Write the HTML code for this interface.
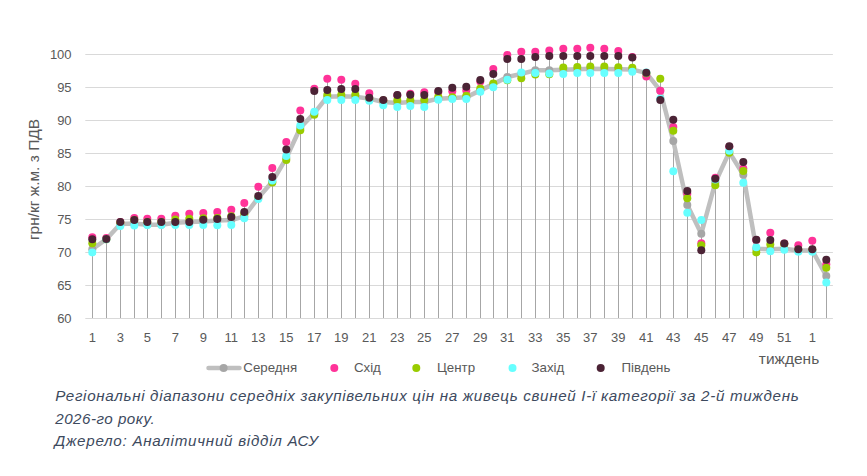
<!DOCTYPE html>
<html><head><meta charset="utf-8"><style>
html,body{margin:0;padding:0;background:#fff;width:867px;height:476px;overflow:hidden}
svg{display:block}
</style></head><body>
<svg width="867" height="476" viewBox="0 0 867 476">
<line x1="85.3" x2="832.9" y1="318.5" y2="318.5" stroke="#D9D9D9" stroke-width="1"/>
<line x1="85.3" x2="832.9" y1="285.5" y2="285.5" stroke="#D9D9D9" stroke-width="1"/>
<line x1="85.3" x2="832.9" y1="252.5" y2="252.5" stroke="#D9D9D9" stroke-width="1"/>
<line x1="85.3" x2="832.9" y1="219.5" y2="219.5" stroke="#D9D9D9" stroke-width="1"/>
<line x1="85.3" x2="832.9" y1="186.5" y2="186.5" stroke="#D9D9D9" stroke-width="1"/>
<line x1="85.3" x2="832.9" y1="153.5" y2="153.5" stroke="#D9D9D9" stroke-width="1"/>
<line x1="85.3" x2="832.9" y1="120.5" y2="120.5" stroke="#D9D9D9" stroke-width="1"/>
<line x1="85.3" x2="832.9" y1="87.5" y2="87.5" stroke="#D9D9D9" stroke-width="1"/>
<line x1="85.3" x2="832.9" y1="54.5" y2="54.5" stroke="#D9D9D9" stroke-width="1"/>
<line x1="92.5" x2="92.5" y1="237.29" y2="318" stroke="#A6A6A6" stroke-width="1"/>
<line x1="106.5" x2="106.5" y1="237.95" y2="318" stroke="#A6A6A6" stroke-width="1"/>
<line x1="120.5" x2="120.5" y1="221.97" y2="318" stroke="#A6A6A6" stroke-width="1"/>
<line x1="134.5" x2="134.5" y1="217.88" y2="318" stroke="#A6A6A6" stroke-width="1"/>
<line x1="147.5" x2="147.5" y1="218.80" y2="318" stroke="#A6A6A6" stroke-width="1"/>
<line x1="161.5" x2="161.5" y1="218.80" y2="318" stroke="#A6A6A6" stroke-width="1"/>
<line x1="175.5" x2="175.5" y1="215.70" y2="318" stroke="#A6A6A6" stroke-width="1"/>
<line x1="189.5" x2="189.5" y1="213.85" y2="318" stroke="#A6A6A6" stroke-width="1"/>
<line x1="203.5" x2="203.5" y1="212.99" y2="318" stroke="#A6A6A6" stroke-width="1"/>
<line x1="217.5" x2="217.5" y1="211.94" y2="318" stroke="#A6A6A6" stroke-width="1"/>
<line x1="231.5" x2="231.5" y1="209.82" y2="318" stroke="#A6A6A6" stroke-width="1"/>
<line x1="244.5" x2="244.5" y1="202.96" y2="318" stroke="#A6A6A6" stroke-width="1"/>
<line x1="258.5" x2="258.5" y1="186.85" y2="318" stroke="#A6A6A6" stroke-width="1"/>
<line x1="272.5" x2="272.5" y1="167.96" y2="318" stroke="#A6A6A6" stroke-width="1"/>
<line x1="286.5" x2="286.5" y1="141.88" y2="318" stroke="#A6A6A6" stroke-width="1"/>
<line x1="300.5" x2="300.5" y1="110.52" y2="318" stroke="#A6A6A6" stroke-width="1"/>
<line x1="314.5" x2="314.5" y1="88.73" y2="318" stroke="#A6A6A6" stroke-width="1"/>
<line x1="327.5" x2="327.5" y1="78.70" y2="318" stroke="#A6A6A6" stroke-width="1"/>
<line x1="341.5" x2="341.5" y1="79.69" y2="318" stroke="#A6A6A6" stroke-width="1"/>
<line x1="355.5" x2="355.5" y1="83.72" y2="318" stroke="#A6A6A6" stroke-width="1"/>
<line x1="369.5" x2="369.5" y1="93.35" y2="318" stroke="#A6A6A6" stroke-width="1"/>
<line x1="383.5" x2="383.5" y1="99.96" y2="318" stroke="#A6A6A6" stroke-width="1"/>
<line x1="397.5" x2="397.5" y1="95.01" y2="318" stroke="#A6A6A6" stroke-width="1"/>
<line x1="410.5" x2="410.5" y1="93.75" y2="318" stroke="#A6A6A6" stroke-width="1"/>
<line x1="424.5" x2="424.5" y1="92.36" y2="318" stroke="#A6A6A6" stroke-width="1"/>
<line x1="438.5" x2="438.5" y1="91.04" y2="318" stroke="#A6A6A6" stroke-width="1"/>
<line x1="452.5" x2="452.5" y1="87.87" y2="318" stroke="#A6A6A6" stroke-width="1"/>
<line x1="466.5" x2="466.5" y1="86.75" y2="318" stroke="#A6A6A6" stroke-width="1"/>
<line x1="480.5" x2="480.5" y1="79.95" y2="318" stroke="#A6A6A6" stroke-width="1"/>
<line x1="493.5" x2="493.5" y1="68.93" y2="318" stroke="#A6A6A6" stroke-width="1"/>
<line x1="507.5" x2="507.5" y1="55.06" y2="318" stroke="#A6A6A6" stroke-width="1"/>
<line x1="521.5" x2="521.5" y1="51.63" y2="318" stroke="#A6A6A6" stroke-width="1"/>
<line x1="535.5" x2="535.5" y1="51.63" y2="318" stroke="#A6A6A6" stroke-width="1"/>
<line x1="549.5" x2="549.5" y1="50.57" y2="318" stroke="#A6A6A6" stroke-width="1"/>
<line x1="563.5" x2="563.5" y1="48.72" y2="318" stroke="#A6A6A6" stroke-width="1"/>
<line x1="577.5" x2="577.5" y1="48.72" y2="318" stroke="#A6A6A6" stroke-width="1"/>
<line x1="590.5" x2="590.5" y1="47.80" y2="318" stroke="#A6A6A6" stroke-width="1"/>
<line x1="604.5" x2="604.5" y1="48.72" y2="318" stroke="#A6A6A6" stroke-width="1"/>
<line x1="618.5" x2="618.5" y1="51.10" y2="318" stroke="#A6A6A6" stroke-width="1"/>
<line x1="632.5" x2="632.5" y1="56.91" y2="318" stroke="#A6A6A6" stroke-width="1"/>
<line x1="646.5" x2="646.5" y1="72.56" y2="318" stroke="#A6A6A6" stroke-width="1"/>
<line x1="660.5" x2="660.5" y1="78.83" y2="318" stroke="#A6A6A6" stroke-width="1"/>
<line x1="673.5" x2="673.5" y1="119.76" y2="318" stroke="#A6A6A6" stroke-width="1"/>
<line x1="687.5" x2="687.5" y1="190.94" y2="318" stroke="#A6A6A6" stroke-width="1"/>
<line x1="701.5" x2="701.5" y1="219.92" y2="318" stroke="#A6A6A6" stroke-width="1"/>
<line x1="715.5" x2="715.5" y1="177.87" y2="318" stroke="#A6A6A6" stroke-width="1"/>
<line x1="729.5" x2="729.5" y1="146.17" y2="318" stroke="#A6A6A6" stroke-width="1"/>
<line x1="743.5" x2="743.5" y1="162.02" y2="318" stroke="#A6A6A6" stroke-width="1"/>
<line x1="756.5" x2="756.5" y1="239.67" y2="318" stroke="#A6A6A6" stroke-width="1"/>
<line x1="770.5" x2="770.5" y1="232.67" y2="318" stroke="#A6A6A6" stroke-width="1"/>
<line x1="784.5" x2="784.5" y1="243.56" y2="318" stroke="#A6A6A6" stroke-width="1"/>
<line x1="798.5" x2="798.5" y1="245.21" y2="318" stroke="#A6A6A6" stroke-width="1"/>
<line x1="812.5" x2="812.5" y1="240.66" y2="318" stroke="#A6A6A6" stroke-width="1"/>
<line x1="826.5" x2="826.5" y1="259.74" y2="318" stroke="#A6A6A6" stroke-width="1"/>
<polyline points="92.30,249.17 106.30,239.27 120.30,224.08 134.30,223.42 147.30,224.74 161.30,224.74 175.30,222.76 189.30,222.10 203.30,221.44 217.30,220.58 231.30,220.12 244.30,216.36 258.30,197.67 272.30,181.83 286.30,158.06 300.30,127.69 314.30,113.16 327.30,96.66 341.30,96.33 355.30,96.66 369.30,98.64 383.30,101.94 397.30,102.93 410.30,101.94 424.30,101.94 438.30,98.64 452.30,97.98 466.30,97.32 480.30,90.38 493.30,84.11 507.30,76.98 521.30,73.88 535.30,70.25 549.30,70.25 563.30,69.72 577.30,69.26 590.30,68.79 604.30,68.93 618.30,69.26 632.30,69.59 646.30,72.89 660.30,90.71 673.30,140.89 687.30,204.94 701.30,233.66 715.30,182.49 729.30,152.12 743.30,174.76 756.30,248.78 770.30,249.17 784.30,248.78 798.30,250.49 812.30,250.49 826.30,275.91" fill="none" stroke="#BFBFBF" stroke-width="4.5" stroke-linejoin="round" stroke-linecap="round"/>
<circle cx="92.30" cy="249.17" r="4.0" fill="#A6A6A6"/>
<circle cx="106.30" cy="239.27" r="4.0" fill="#A6A6A6"/>
<circle cx="120.30" cy="224.08" r="4.0" fill="#A6A6A6"/>
<circle cx="134.30" cy="223.42" r="4.0" fill="#A6A6A6"/>
<circle cx="147.30" cy="224.74" r="4.0" fill="#A6A6A6"/>
<circle cx="161.30" cy="224.74" r="4.0" fill="#A6A6A6"/>
<circle cx="175.30" cy="222.76" r="4.0" fill="#A6A6A6"/>
<circle cx="189.30" cy="222.10" r="4.0" fill="#A6A6A6"/>
<circle cx="203.30" cy="221.44" r="4.0" fill="#A6A6A6"/>
<circle cx="217.30" cy="220.58" r="4.0" fill="#A6A6A6"/>
<circle cx="231.30" cy="220.12" r="4.0" fill="#A6A6A6"/>
<circle cx="244.30" cy="216.36" r="4.0" fill="#A6A6A6"/>
<circle cx="258.30" cy="197.67" r="4.0" fill="#A6A6A6"/>
<circle cx="272.30" cy="181.83" r="4.0" fill="#A6A6A6"/>
<circle cx="286.30" cy="158.06" r="4.0" fill="#A6A6A6"/>
<circle cx="300.30" cy="127.69" r="4.0" fill="#A6A6A6"/>
<circle cx="314.30" cy="113.16" r="4.0" fill="#A6A6A6"/>
<circle cx="327.30" cy="96.66" r="4.0" fill="#A6A6A6"/>
<circle cx="341.30" cy="96.33" r="4.0" fill="#A6A6A6"/>
<circle cx="355.30" cy="96.66" r="4.0" fill="#A6A6A6"/>
<circle cx="369.30" cy="98.64" r="4.0" fill="#A6A6A6"/>
<circle cx="383.30" cy="101.94" r="4.0" fill="#A6A6A6"/>
<circle cx="397.30" cy="102.93" r="4.0" fill="#A6A6A6"/>
<circle cx="410.30" cy="101.94" r="4.0" fill="#A6A6A6"/>
<circle cx="424.30" cy="101.94" r="4.0" fill="#A6A6A6"/>
<circle cx="438.30" cy="98.64" r="4.0" fill="#A6A6A6"/>
<circle cx="452.30" cy="97.98" r="4.0" fill="#A6A6A6"/>
<circle cx="466.30" cy="97.32" r="4.0" fill="#A6A6A6"/>
<circle cx="480.30" cy="90.38" r="4.0" fill="#A6A6A6"/>
<circle cx="493.30" cy="84.11" r="4.0" fill="#A6A6A6"/>
<circle cx="507.30" cy="76.98" r="4.0" fill="#A6A6A6"/>
<circle cx="521.30" cy="73.88" r="4.0" fill="#A6A6A6"/>
<circle cx="535.30" cy="70.25" r="4.0" fill="#A6A6A6"/>
<circle cx="549.30" cy="70.25" r="4.0" fill="#A6A6A6"/>
<circle cx="563.30" cy="69.72" r="4.0" fill="#A6A6A6"/>
<circle cx="577.30" cy="69.26" r="4.0" fill="#A6A6A6"/>
<circle cx="590.30" cy="68.79" r="4.0" fill="#A6A6A6"/>
<circle cx="604.30" cy="68.93" r="4.0" fill="#A6A6A6"/>
<circle cx="618.30" cy="69.26" r="4.0" fill="#A6A6A6"/>
<circle cx="632.30" cy="69.59" r="4.0" fill="#A6A6A6"/>
<circle cx="646.30" cy="72.89" r="4.0" fill="#A6A6A6"/>
<circle cx="660.30" cy="90.71" r="4.0" fill="#A6A6A6"/>
<circle cx="673.30" cy="140.89" r="4.0" fill="#A6A6A6"/>
<circle cx="687.30" cy="204.94" r="4.0" fill="#A6A6A6"/>
<circle cx="701.30" cy="233.66" r="4.0" fill="#A6A6A6"/>
<circle cx="715.30" cy="182.49" r="4.0" fill="#A6A6A6"/>
<circle cx="729.30" cy="152.12" r="4.0" fill="#A6A6A6"/>
<circle cx="743.30" cy="174.76" r="4.0" fill="#A6A6A6"/>
<circle cx="756.30" cy="248.78" r="4.0" fill="#A6A6A6"/>
<circle cx="770.30" cy="249.17" r="4.0" fill="#A6A6A6"/>
<circle cx="784.30" cy="248.78" r="4.0" fill="#A6A6A6"/>
<circle cx="798.30" cy="250.49" r="4.0" fill="#A6A6A6"/>
<circle cx="812.30" cy="250.49" r="4.0" fill="#A6A6A6"/>
<circle cx="826.30" cy="275.91" r="4.0" fill="#A6A6A6"/>
<circle cx="92.30" cy="237.29" r="4.0" fill="#FF3399"/>
<circle cx="106.30" cy="237.95" r="4.0" fill="#FF3399"/>
<circle cx="120.30" cy="222.10" r="4.0" fill="#FF3399"/>
<circle cx="134.30" cy="217.88" r="4.0" fill="#FF3399"/>
<circle cx="147.30" cy="218.80" r="4.0" fill="#FF3399"/>
<circle cx="161.30" cy="218.80" r="4.0" fill="#FF3399"/>
<circle cx="175.30" cy="215.70" r="4.0" fill="#FF3399"/>
<circle cx="189.30" cy="213.85" r="4.0" fill="#FF3399"/>
<circle cx="203.30" cy="212.99" r="4.0" fill="#FF3399"/>
<circle cx="217.30" cy="211.94" r="4.0" fill="#FF3399"/>
<circle cx="231.30" cy="209.82" r="4.0" fill="#FF3399"/>
<circle cx="244.30" cy="202.96" r="4.0" fill="#FF3399"/>
<circle cx="258.30" cy="186.85" r="4.0" fill="#FF3399"/>
<circle cx="272.30" cy="167.96" r="4.0" fill="#FF3399"/>
<circle cx="286.30" cy="141.88" r="4.0" fill="#FF3399"/>
<circle cx="300.30" cy="110.52" r="4.0" fill="#FF3399"/>
<circle cx="314.30" cy="88.73" r="4.0" fill="#FF3399"/>
<circle cx="327.30" cy="78.70" r="4.0" fill="#FF3399"/>
<circle cx="341.30" cy="79.69" r="4.0" fill="#FF3399"/>
<circle cx="355.30" cy="83.72" r="4.0" fill="#FF3399"/>
<circle cx="369.30" cy="93.35" r="4.0" fill="#FF3399"/>
<circle cx="383.30" cy="100.62" r="4.0" fill="#FF3399"/>
<circle cx="397.30" cy="95.34" r="4.0" fill="#FF3399"/>
<circle cx="410.30" cy="93.75" r="4.0" fill="#FF3399"/>
<circle cx="424.30" cy="92.36" r="4.0" fill="#FF3399"/>
<circle cx="438.30" cy="92.03" r="4.0" fill="#FF3399"/>
<circle cx="452.30" cy="91.37" r="4.0" fill="#FF3399"/>
<circle cx="466.30" cy="90.52" r="4.0" fill="#FF3399"/>
<circle cx="480.30" cy="81.47" r="4.0" fill="#FF3399"/>
<circle cx="493.30" cy="68.93" r="4.0" fill="#FF3399"/>
<circle cx="507.30" cy="55.06" r="4.0" fill="#FF3399"/>
<circle cx="521.30" cy="51.63" r="4.0" fill="#FF3399"/>
<circle cx="535.30" cy="51.63" r="4.0" fill="#FF3399"/>
<circle cx="549.30" cy="50.57" r="4.0" fill="#FF3399"/>
<circle cx="563.30" cy="48.72" r="4.0" fill="#FF3399"/>
<circle cx="577.30" cy="48.72" r="4.0" fill="#FF3399"/>
<circle cx="590.30" cy="47.80" r="4.0" fill="#FF3399"/>
<circle cx="604.30" cy="48.72" r="4.0" fill="#FF3399"/>
<circle cx="618.30" cy="51.10" r="4.0" fill="#FF3399"/>
<circle cx="632.30" cy="56.91" r="4.0" fill="#FF3399"/>
<circle cx="646.30" cy="76.52" r="4.0" fill="#FF3399"/>
<circle cx="660.30" cy="90.85" r="4.0" fill="#FF3399"/>
<circle cx="673.30" cy="127.03" r="4.0" fill="#FF3399"/>
<circle cx="687.30" cy="193.71" r="4.0" fill="#FF3399"/>
<circle cx="701.30" cy="243.23" r="4.0" fill="#FF3399"/>
<circle cx="715.30" cy="177.87" r="4.0" fill="#FF3399"/>
<circle cx="729.30" cy="146.84" r="4.0" fill="#FF3399"/>
<circle cx="743.30" cy="168.43" r="4.0" fill="#FF3399"/>
<circle cx="756.30" cy="239.93" r="4.0" fill="#FF3399"/>
<circle cx="770.30" cy="232.67" r="4.0" fill="#FF3399"/>
<circle cx="784.30" cy="243.56" r="4.0" fill="#FF3399"/>
<circle cx="798.30" cy="245.21" r="4.0" fill="#FF3399"/>
<circle cx="812.30" cy="240.66" r="4.0" fill="#FF3399"/>
<circle cx="826.30" cy="264.36" r="4.0" fill="#FF3399"/>
<circle cx="92.30" cy="243.23" r="4.0" fill="#99CC00"/>
<circle cx="106.30" cy="239.27" r="4.0" fill="#99CC00"/>
<circle cx="120.30" cy="222.76" r="4.0" fill="#99CC00"/>
<circle cx="134.30" cy="220.12" r="4.0" fill="#99CC00"/>
<circle cx="147.30" cy="222.10" r="4.0" fill="#99CC00"/>
<circle cx="161.30" cy="222.10" r="4.0" fill="#99CC00"/>
<circle cx="175.30" cy="219.46" r="4.0" fill="#99CC00"/>
<circle cx="189.30" cy="218.80" r="4.0" fill="#99CC00"/>
<circle cx="203.30" cy="218.27" r="4.0" fill="#99CC00"/>
<circle cx="217.30" cy="217.94" r="4.0" fill="#99CC00"/>
<circle cx="231.30" cy="216.36" r="4.0" fill="#99CC00"/>
<circle cx="244.30" cy="213.65" r="4.0" fill="#99CC00"/>
<circle cx="258.30" cy="197.67" r="4.0" fill="#99CC00"/>
<circle cx="272.30" cy="182.49" r="4.0" fill="#99CC00"/>
<circle cx="286.30" cy="160.04" r="4.0" fill="#99CC00"/>
<circle cx="300.30" cy="130.33" r="4.0" fill="#99CC00"/>
<circle cx="314.30" cy="114.75" r="4.0" fill="#99CC00"/>
<circle cx="327.30" cy="95.01" r="4.0" fill="#99CC00"/>
<circle cx="341.30" cy="94.74" r="4.0" fill="#99CC00"/>
<circle cx="355.30" cy="94.74" r="4.0" fill="#99CC00"/>
<circle cx="369.30" cy="99.30" r="4.0" fill="#99CC00"/>
<circle cx="383.30" cy="100.62" r="4.0" fill="#99CC00"/>
<circle cx="397.30" cy="100.22" r="4.0" fill="#99CC00"/>
<circle cx="410.30" cy="100.22" r="4.0" fill="#99CC00"/>
<circle cx="424.30" cy="99.69" r="4.0" fill="#99CC00"/>
<circle cx="438.30" cy="96.85" r="4.0" fill="#99CC00"/>
<circle cx="452.30" cy="97.32" r="4.0" fill="#99CC00"/>
<circle cx="466.30" cy="95.73" r="4.0" fill="#99CC00"/>
<circle cx="480.30" cy="88.40" r="4.0" fill="#99CC00"/>
<circle cx="493.30" cy="83.45" r="4.0" fill="#99CC00"/>
<circle cx="507.30" cy="80.15" r="4.0" fill="#99CC00"/>
<circle cx="521.30" cy="78.17" r="4.0" fill="#99CC00"/>
<circle cx="535.30" cy="74.41" r="4.0" fill="#99CC00"/>
<circle cx="549.30" cy="74.21" r="4.0" fill="#99CC00"/>
<circle cx="563.30" cy="67.60" r="4.0" fill="#99CC00"/>
<circle cx="577.30" cy="66.94" r="4.0" fill="#99CC00"/>
<circle cx="590.30" cy="66.48" r="4.0" fill="#99CC00"/>
<circle cx="604.30" cy="66.48" r="4.0" fill="#99CC00"/>
<circle cx="618.30" cy="67.27" r="4.0" fill="#99CC00"/>
<circle cx="632.30" cy="67.74" r="4.0" fill="#99CC00"/>
<circle cx="646.30" cy="73.22" r="4.0" fill="#99CC00"/>
<circle cx="660.30" cy="78.83" r="4.0" fill="#99CC00"/>
<circle cx="673.30" cy="130.86" r="4.0" fill="#99CC00"/>
<circle cx="687.30" cy="198.33" r="4.0" fill="#99CC00"/>
<circle cx="701.30" cy="245.21" r="4.0" fill="#99CC00"/>
<circle cx="715.30" cy="185.13" r="4.0" fill="#99CC00"/>
<circle cx="729.30" cy="152.78" r="4.0" fill="#99CC00"/>
<circle cx="743.30" cy="170.93" r="4.0" fill="#99CC00"/>
<circle cx="756.30" cy="252.47" r="4.0" fill="#99CC00"/>
<circle cx="770.30" cy="244.55" r="4.0" fill="#99CC00"/>
<circle cx="784.30" cy="243.89" r="4.0" fill="#99CC00"/>
<circle cx="798.30" cy="249.83" r="4.0" fill="#99CC00"/>
<circle cx="812.30" cy="249.83" r="4.0" fill="#99CC00"/>
<circle cx="826.30" cy="267.66" r="4.0" fill="#99CC00"/>
<circle cx="92.30" cy="252.47" r="4.0" fill="#66FFFF"/>
<circle cx="106.30" cy="239.27" r="4.0" fill="#66FFFF"/>
<circle cx="120.30" cy="226.06" r="4.0" fill="#66FFFF"/>
<circle cx="134.30" cy="225.40" r="4.0" fill="#66FFFF"/>
<circle cx="147.30" cy="225.07" r="4.0" fill="#66FFFF"/>
<circle cx="161.30" cy="225.07" r="4.0" fill="#66FFFF"/>
<circle cx="175.30" cy="225.07" r="4.0" fill="#66FFFF"/>
<circle cx="189.30" cy="225.07" r="4.0" fill="#66FFFF"/>
<circle cx="203.30" cy="224.94" r="4.0" fill="#66FFFF"/>
<circle cx="217.30" cy="225.27" r="4.0" fill="#66FFFF"/>
<circle cx="231.30" cy="225.07" r="4.0" fill="#66FFFF"/>
<circle cx="244.30" cy="218.27" r="4.0" fill="#66FFFF"/>
<circle cx="258.30" cy="198.99" r="4.0" fill="#66FFFF"/>
<circle cx="272.30" cy="180.51" r="4.0" fill="#66FFFF"/>
<circle cx="286.30" cy="156.08" r="4.0" fill="#66FFFF"/>
<circle cx="300.30" cy="125.44" r="4.0" fill="#66FFFF"/>
<circle cx="314.30" cy="111.84" r="4.0" fill="#66FFFF"/>
<circle cx="327.30" cy="99.96" r="4.0" fill="#66FFFF"/>
<circle cx="341.30" cy="99.96" r="4.0" fill="#66FFFF"/>
<circle cx="355.30" cy="99.96" r="4.0" fill="#66FFFF"/>
<circle cx="369.30" cy="100.75" r="4.0" fill="#66FFFF"/>
<circle cx="383.30" cy="105.24" r="4.0" fill="#66FFFF"/>
<circle cx="397.30" cy="107.02" r="4.0" fill="#66FFFF"/>
<circle cx="410.30" cy="106.03" r="4.0" fill="#66FFFF"/>
<circle cx="424.30" cy="107.02" r="4.0" fill="#66FFFF"/>
<circle cx="438.30" cy="99.76" r="4.0" fill="#66FFFF"/>
<circle cx="452.30" cy="98.90" r="4.0" fill="#66FFFF"/>
<circle cx="466.30" cy="98.90" r="4.0" fill="#66FFFF"/>
<circle cx="480.30" cy="91.70" r="4.0" fill="#66FFFF"/>
<circle cx="493.30" cy="87.15" r="4.0" fill="#66FFFF"/>
<circle cx="507.30" cy="79.69" r="4.0" fill="#66FFFF"/>
<circle cx="521.30" cy="72.49" r="4.0" fill="#66FFFF"/>
<circle cx="535.30" cy="73.02" r="4.0" fill="#66FFFF"/>
<circle cx="549.30" cy="73.42" r="4.0" fill="#66FFFF"/>
<circle cx="563.30" cy="73.88" r="4.0" fill="#66FFFF"/>
<circle cx="577.30" cy="72.89" r="4.0" fill="#66FFFF"/>
<circle cx="590.30" cy="72.89" r="4.0" fill="#66FFFF"/>
<circle cx="604.30" cy="72.89" r="4.0" fill="#66FFFF"/>
<circle cx="618.30" cy="72.95" r="4.0" fill="#66FFFF"/>
<circle cx="632.30" cy="71.70" r="4.0" fill="#66FFFF"/>
<circle cx="646.30" cy="72.56" r="4.0" fill="#66FFFF"/>
<circle cx="660.30" cy="98.64" r="4.0" fill="#66FFFF"/>
<circle cx="673.30" cy="171.26" r="4.0" fill="#66FFFF"/>
<circle cx="687.30" cy="212.66" r="4.0" fill="#66FFFF"/>
<circle cx="701.30" cy="219.92" r="4.0" fill="#66FFFF"/>
<circle cx="715.30" cy="179.52" r="4.0" fill="#66FFFF"/>
<circle cx="729.30" cy="150.80" r="4.0" fill="#66FFFF"/>
<circle cx="743.30" cy="182.75" r="4.0" fill="#66FFFF"/>
<circle cx="756.30" cy="247.26" r="4.0" fill="#66FFFF"/>
<circle cx="770.30" cy="251.15" r="4.0" fill="#66FFFF"/>
<circle cx="784.30" cy="249.83" r="4.0" fill="#66FFFF"/>
<circle cx="798.30" cy="251.68" r="4.0" fill="#66FFFF"/>
<circle cx="812.30" cy="251.68" r="4.0" fill="#66FFFF"/>
<circle cx="826.30" cy="282.52" r="4.0" fill="#66FFFF"/>
<circle cx="92.30" cy="239.27" r="4.0" fill="#4B2335"/>
<circle cx="106.30" cy="238.94" r="4.0" fill="#4B2335"/>
<circle cx="120.30" cy="221.97" r="4.0" fill="#4B2335"/>
<circle cx="134.30" cy="220.12" r="4.0" fill="#4B2335"/>
<circle cx="147.30" cy="222.10" r="4.0" fill="#4B2335"/>
<circle cx="161.30" cy="222.10" r="4.0" fill="#4B2335"/>
<circle cx="175.30" cy="222.10" r="4.0" fill="#4B2335"/>
<circle cx="189.30" cy="222.10" r="4.0" fill="#4B2335"/>
<circle cx="203.30" cy="219.79" r="4.0" fill="#4B2335"/>
<circle cx="217.30" cy="218.93" r="4.0" fill="#4B2335"/>
<circle cx="231.30" cy="217.09" r="4.0" fill="#4B2335"/>
<circle cx="244.30" cy="211.94" r="4.0" fill="#4B2335"/>
<circle cx="258.30" cy="195.89" r="4.0" fill="#4B2335"/>
<circle cx="272.30" cy="176.88" r="4.0" fill="#4B2335"/>
<circle cx="286.30" cy="149.48" r="4.0" fill="#4B2335"/>
<circle cx="300.30" cy="119.10" r="4.0" fill="#4B2335"/>
<circle cx="314.30" cy="91.04" r="4.0" fill="#4B2335"/>
<circle cx="327.30" cy="89.92" r="4.0" fill="#4B2335"/>
<circle cx="341.30" cy="89.00" r="4.0" fill="#4B2335"/>
<circle cx="355.30" cy="89.00" r="4.0" fill="#4B2335"/>
<circle cx="369.30" cy="97.84" r="4.0" fill="#4B2335"/>
<circle cx="383.30" cy="99.96" r="4.0" fill="#4B2335"/>
<circle cx="397.30" cy="95.01" r="4.0" fill="#4B2335"/>
<circle cx="410.30" cy="94.81" r="4.0" fill="#4B2335"/>
<circle cx="424.30" cy="95.01" r="4.0" fill="#4B2335"/>
<circle cx="438.30" cy="91.04" r="4.0" fill="#4B2335"/>
<circle cx="452.30" cy="87.87" r="4.0" fill="#4B2335"/>
<circle cx="466.30" cy="86.75" r="4.0" fill="#4B2335"/>
<circle cx="480.30" cy="79.95" r="4.0" fill="#4B2335"/>
<circle cx="493.30" cy="73.88" r="4.0" fill="#4B2335"/>
<circle cx="507.30" cy="59.02" r="4.0" fill="#4B2335"/>
<circle cx="521.30" cy="59.02" r="4.0" fill="#4B2335"/>
<circle cx="535.30" cy="57.04" r="4.0" fill="#4B2335"/>
<circle cx="549.30" cy="55.98" r="4.0" fill="#4B2335"/>
<circle cx="563.30" cy="55.98" r="4.0" fill="#4B2335"/>
<circle cx="577.30" cy="55.98" r="4.0" fill="#4B2335"/>
<circle cx="590.30" cy="55.98" r="4.0" fill="#4B2335"/>
<circle cx="604.30" cy="55.98" r="4.0" fill="#4B2335"/>
<circle cx="618.30" cy="56.05" r="4.0" fill="#4B2335"/>
<circle cx="632.30" cy="57.57" r="4.0" fill="#4B2335"/>
<circle cx="646.30" cy="72.69" r="4.0" fill="#4B2335"/>
<circle cx="660.30" cy="99.96" r="4.0" fill="#4B2335"/>
<circle cx="673.30" cy="119.76" r="4.0" fill="#4B2335"/>
<circle cx="687.30" cy="190.94" r="4.0" fill="#4B2335"/>
<circle cx="701.30" cy="250.16" r="4.0" fill="#4B2335"/>
<circle cx="715.30" cy="178.86" r="4.0" fill="#4B2335"/>
<circle cx="729.30" cy="146.17" r="4.0" fill="#4B2335"/>
<circle cx="743.30" cy="162.02" r="4.0" fill="#4B2335"/>
<circle cx="756.30" cy="239.67" r="4.0" fill="#4B2335"/>
<circle cx="770.30" cy="239.93" r="4.0" fill="#4B2335"/>
<circle cx="784.30" cy="243.56" r="4.0" fill="#4B2335"/>
<circle cx="798.30" cy="249.17" r="4.0" fill="#4B2335"/>
<circle cx="812.30" cy="249.17" r="4.0" fill="#4B2335"/>
<circle cx="826.30" cy="259.74" r="4.0" fill="#4B2335"/>
<text x="71.6" y="322.60" text-anchor="end" font-family="Liberation Sans, sans-serif" font-size="13" fill="#595959">60</text>
<text x="71.6" y="289.66" text-anchor="end" font-family="Liberation Sans, sans-serif" font-size="13" fill="#595959">65</text>
<text x="71.6" y="256.72" text-anchor="end" font-family="Liberation Sans, sans-serif" font-size="13" fill="#595959">70</text>
<text x="71.6" y="223.79" text-anchor="end" font-family="Liberation Sans, sans-serif" font-size="13" fill="#595959">75</text>
<text x="71.6" y="190.85" text-anchor="end" font-family="Liberation Sans, sans-serif" font-size="13" fill="#595959">80</text>
<text x="71.6" y="157.91" text-anchor="end" font-family="Liberation Sans, sans-serif" font-size="13" fill="#595959">85</text>
<text x="71.6" y="124.98" text-anchor="end" font-family="Liberation Sans, sans-serif" font-size="13" fill="#595959">90</text>
<text x="71.6" y="92.04" text-anchor="end" font-family="Liberation Sans, sans-serif" font-size="13" fill="#595959">95</text>
<text x="71.6" y="59.10" text-anchor="end" font-family="Liberation Sans, sans-serif" font-size="13" fill="#595959">100</text>
<text x="92.30" y="342" text-anchor="middle" font-family="Liberation Sans, sans-serif" font-size="13" fill="#595959">1</text>
<text x="120.30" y="342" text-anchor="middle" font-family="Liberation Sans, sans-serif" font-size="13" fill="#595959">3</text>
<text x="147.30" y="342" text-anchor="middle" font-family="Liberation Sans, sans-serif" font-size="13" fill="#595959">5</text>
<text x="175.30" y="342" text-anchor="middle" font-family="Liberation Sans, sans-serif" font-size="13" fill="#595959">7</text>
<text x="203.30" y="342" text-anchor="middle" font-family="Liberation Sans, sans-serif" font-size="13" fill="#595959">9</text>
<text x="231.30" y="342" text-anchor="middle" font-family="Liberation Sans, sans-serif" font-size="13" fill="#595959">11</text>
<text x="258.30" y="342" text-anchor="middle" font-family="Liberation Sans, sans-serif" font-size="13" fill="#595959">13</text>
<text x="286.30" y="342" text-anchor="middle" font-family="Liberation Sans, sans-serif" font-size="13" fill="#595959">15</text>
<text x="314.30" y="342" text-anchor="middle" font-family="Liberation Sans, sans-serif" font-size="13" fill="#595959">17</text>
<text x="341.30" y="342" text-anchor="middle" font-family="Liberation Sans, sans-serif" font-size="13" fill="#595959">19</text>
<text x="369.30" y="342" text-anchor="middle" font-family="Liberation Sans, sans-serif" font-size="13" fill="#595959">21</text>
<text x="397.30" y="342" text-anchor="middle" font-family="Liberation Sans, sans-serif" font-size="13" fill="#595959">23</text>
<text x="424.30" y="342" text-anchor="middle" font-family="Liberation Sans, sans-serif" font-size="13" fill="#595959">25</text>
<text x="452.30" y="342" text-anchor="middle" font-family="Liberation Sans, sans-serif" font-size="13" fill="#595959">27</text>
<text x="480.30" y="342" text-anchor="middle" font-family="Liberation Sans, sans-serif" font-size="13" fill="#595959">29</text>
<text x="507.30" y="342" text-anchor="middle" font-family="Liberation Sans, sans-serif" font-size="13" fill="#595959">31</text>
<text x="535.30" y="342" text-anchor="middle" font-family="Liberation Sans, sans-serif" font-size="13" fill="#595959">33</text>
<text x="563.30" y="342" text-anchor="middle" font-family="Liberation Sans, sans-serif" font-size="13" fill="#595959">35</text>
<text x="590.30" y="342" text-anchor="middle" font-family="Liberation Sans, sans-serif" font-size="13" fill="#595959">37</text>
<text x="618.30" y="342" text-anchor="middle" font-family="Liberation Sans, sans-serif" font-size="13" fill="#595959">39</text>
<text x="646.30" y="342" text-anchor="middle" font-family="Liberation Sans, sans-serif" font-size="13" fill="#595959">41</text>
<text x="673.30" y="342" text-anchor="middle" font-family="Liberation Sans, sans-serif" font-size="13" fill="#595959">43</text>
<text x="701.30" y="342" text-anchor="middle" font-family="Liberation Sans, sans-serif" font-size="13" fill="#595959">45</text>
<text x="729.30" y="342" text-anchor="middle" font-family="Liberation Sans, sans-serif" font-size="13" fill="#595959">47</text>
<text x="756.30" y="342" text-anchor="middle" font-family="Liberation Sans, sans-serif" font-size="13" fill="#595959">49</text>
<text x="784.30" y="342" text-anchor="middle" font-family="Liberation Sans, sans-serif" font-size="13" fill="#595959">51</text>
<text x="812.30" y="342" text-anchor="middle" font-family="Liberation Sans, sans-serif" font-size="13" fill="#595959">1</text>
<text transform="translate(39.3,179.5) rotate(-90)" text-anchor="middle" font-family="Liberation Sans, sans-serif" font-size="15.5" fill="#595959">грн/кг ж.м. з ПДВ</text>
<text x="789" y="363.8" text-anchor="middle" font-family="Liberation Sans, sans-serif" font-size="15.5" fill="#595959">тиждень</text>
<line x1="208.5" x2="239.5" y1="367.9" y2="367.9" stroke="#BFBFBF" stroke-width="4.5" stroke-linecap="round"/>
<circle cx="223.6" cy="367.9" r="4" fill="#A6A6A6"/>
<text x="243.3" y="372.3" font-family="Liberation Sans, sans-serif" font-size="13.3" fill="#595959">Середня</text>
<circle cx="334.3" cy="367.9" r="4" fill="#FF3399"/>
<text x="353.9" y="372.3" font-family="Liberation Sans, sans-serif" font-size="13.3" fill="#595959">Схід</text>
<circle cx="416.3" cy="367.9" r="4" fill="#99CC00"/>
<text x="437" y="372.3" font-family="Liberation Sans, sans-serif" font-size="13.3" fill="#595959">Центр</text>
<circle cx="512.5" cy="367.9" r="4" fill="#66FFFF"/>
<text x="531.5" y="372.3" font-family="Liberation Sans, sans-serif" font-size="13.3" fill="#595959">Захід</text>
<circle cx="600.7" cy="367.9" r="4" fill="#4B2335"/>
<text x="621.5" y="372.3" font-family="Liberation Sans, sans-serif" font-size="13.3" fill="#595959">Південь</text>
<text x="55.2" y="400.8" font-family="Liberation Sans, sans-serif" font-style="italic" font-size="15.2" textLength="743.5" lengthAdjust="spacing" fill="#3D4A5E">Регіональні діапазони середніх закупівельних цін на живець свиней І-ї категорії за 2-й тиждень</text>
<text x="55.2" y="423.6" font-family="Liberation Sans, sans-serif" font-style="italic" font-size="15.2" textLength="99.5" lengthAdjust="spacing" fill="#3D4A5E">2026-го року.</text>
<text x="54.5" y="445.8" font-family="Liberation Sans, sans-serif" font-style="italic" font-size="15.2" textLength="263.5" lengthAdjust="spacing" fill="#3D4A5E">Джерело: Аналітичний відділ АСУ</text>
</svg>
</body></html>
